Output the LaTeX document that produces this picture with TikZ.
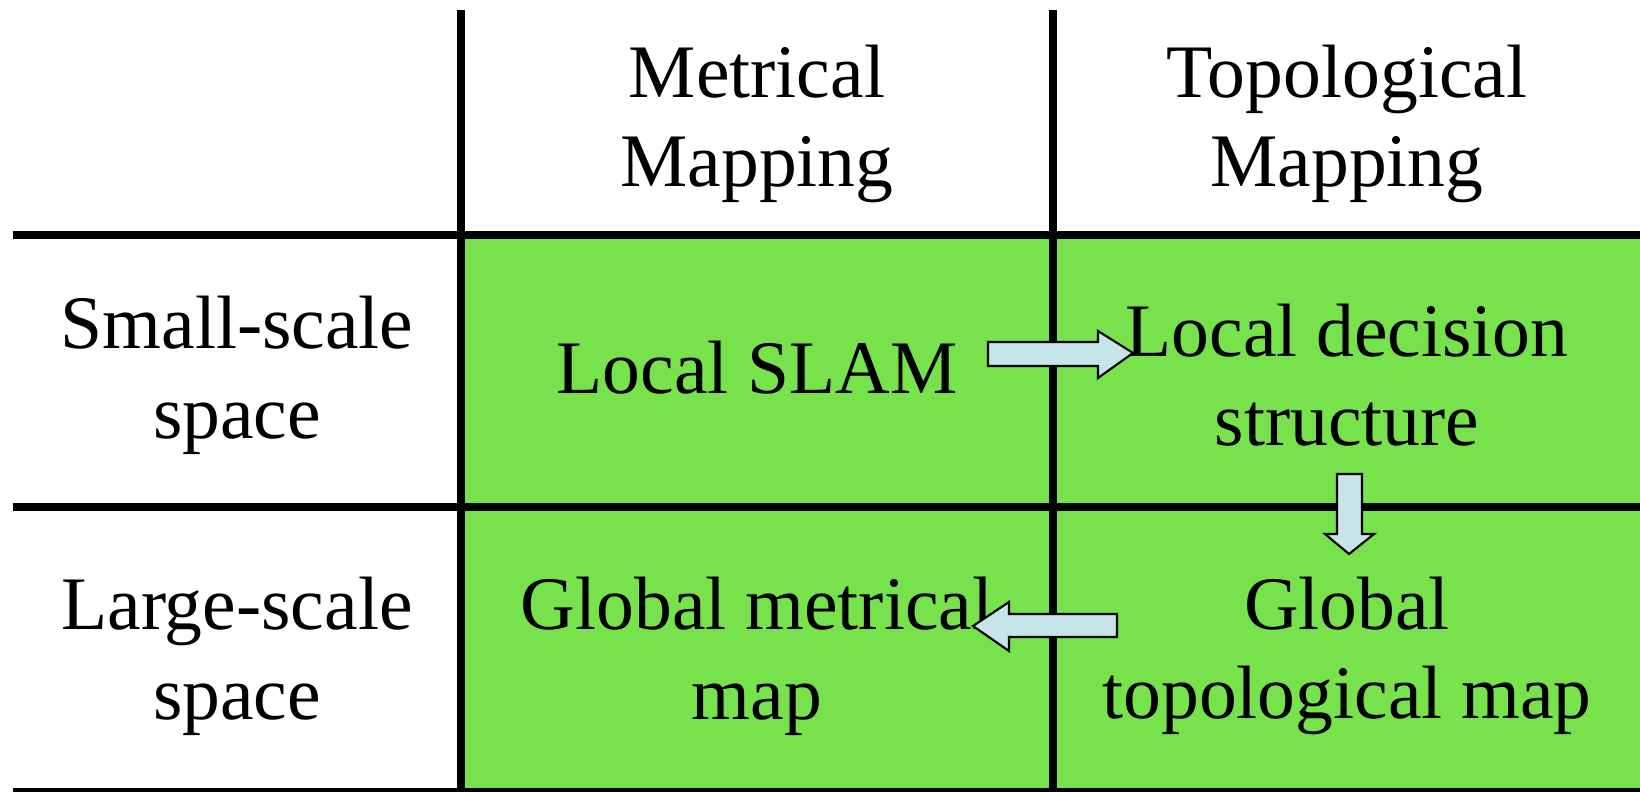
\documentclass[tikz,border=0pt]{standalone}
\usepackage{fontspec}
\setmainfont{Liberation Serif}
\definecolor{cellgreen}{RGB}{120,226,76}
\definecolor{arrowblue}{RGB}{197,229,232}

\begin{document}
\begin{tikzpicture}[x=0.01cm, y=-0.01cm,
  cell/.style={align=center, inner sep=0pt, font=\fontsize{21.5}{25.5}\selectfont},
  rule/.style={line width=0.08cm},
  blockarrow/.style={fill=arrowblue, draw=black, line width=0.6pt, line join=miter}]

  \useasboundingbox (0,0) rectangle (1640,792);

  % Grid
  \fill[cellgreen] (461,235) rectangle (1640,792);
  \draw[rule] (13,235) -- (1640,235);
  \draw[rule] (13,507) -- (1640,507);
  \draw[rule] (461,10) -- (461,792);
  \draw[rule] (1053,10) -- (1053,792);
  \draw[line width=0.03cm] (13,790) -- (1640,790);

  % Define nodes
  \node[cell] (metrical) at (757,124) {Metrical\\Mapping};
  \node[cell] (topological) at (1347,124) {Topological\\Mapping};
  \node[cell] (small) at (237,375) {Small-scale\\space};
  \node[cell] (large) at (237,656) {Large-scale\\space};
  \node[cell] (slam) at (757,368) {Local SLAM};
  \node[cell] (decision) at (1347,375) {Local decision\\structure};
  \node[cell] (globalmetric) at (757,656) {Global metrical\\map};
  \node[cell] (globaltopo) at (1347,656) {Global\\topological map};

  % Block arrows
  \draw[blockarrow] (988,342) -- (1098,342) -- (1098,331) -- (1133,353) -- (1098,378) -- (1098,366) -- (988,366) -- cycle;
  \draw[blockarrow] (1337,474) -- (1362,474) -- (1362,534) -- (1374,534) -- (1349,554) -- (1325,534) -- (1337,534) -- cycle;
  \draw[blockarrow] (1117,614) -- (1009,614) -- (1009,602) -- (973,626) -- (1009,651) -- (1009,637) -- (1117,637) -- cycle;

\end{tikzpicture}
\end{document}
